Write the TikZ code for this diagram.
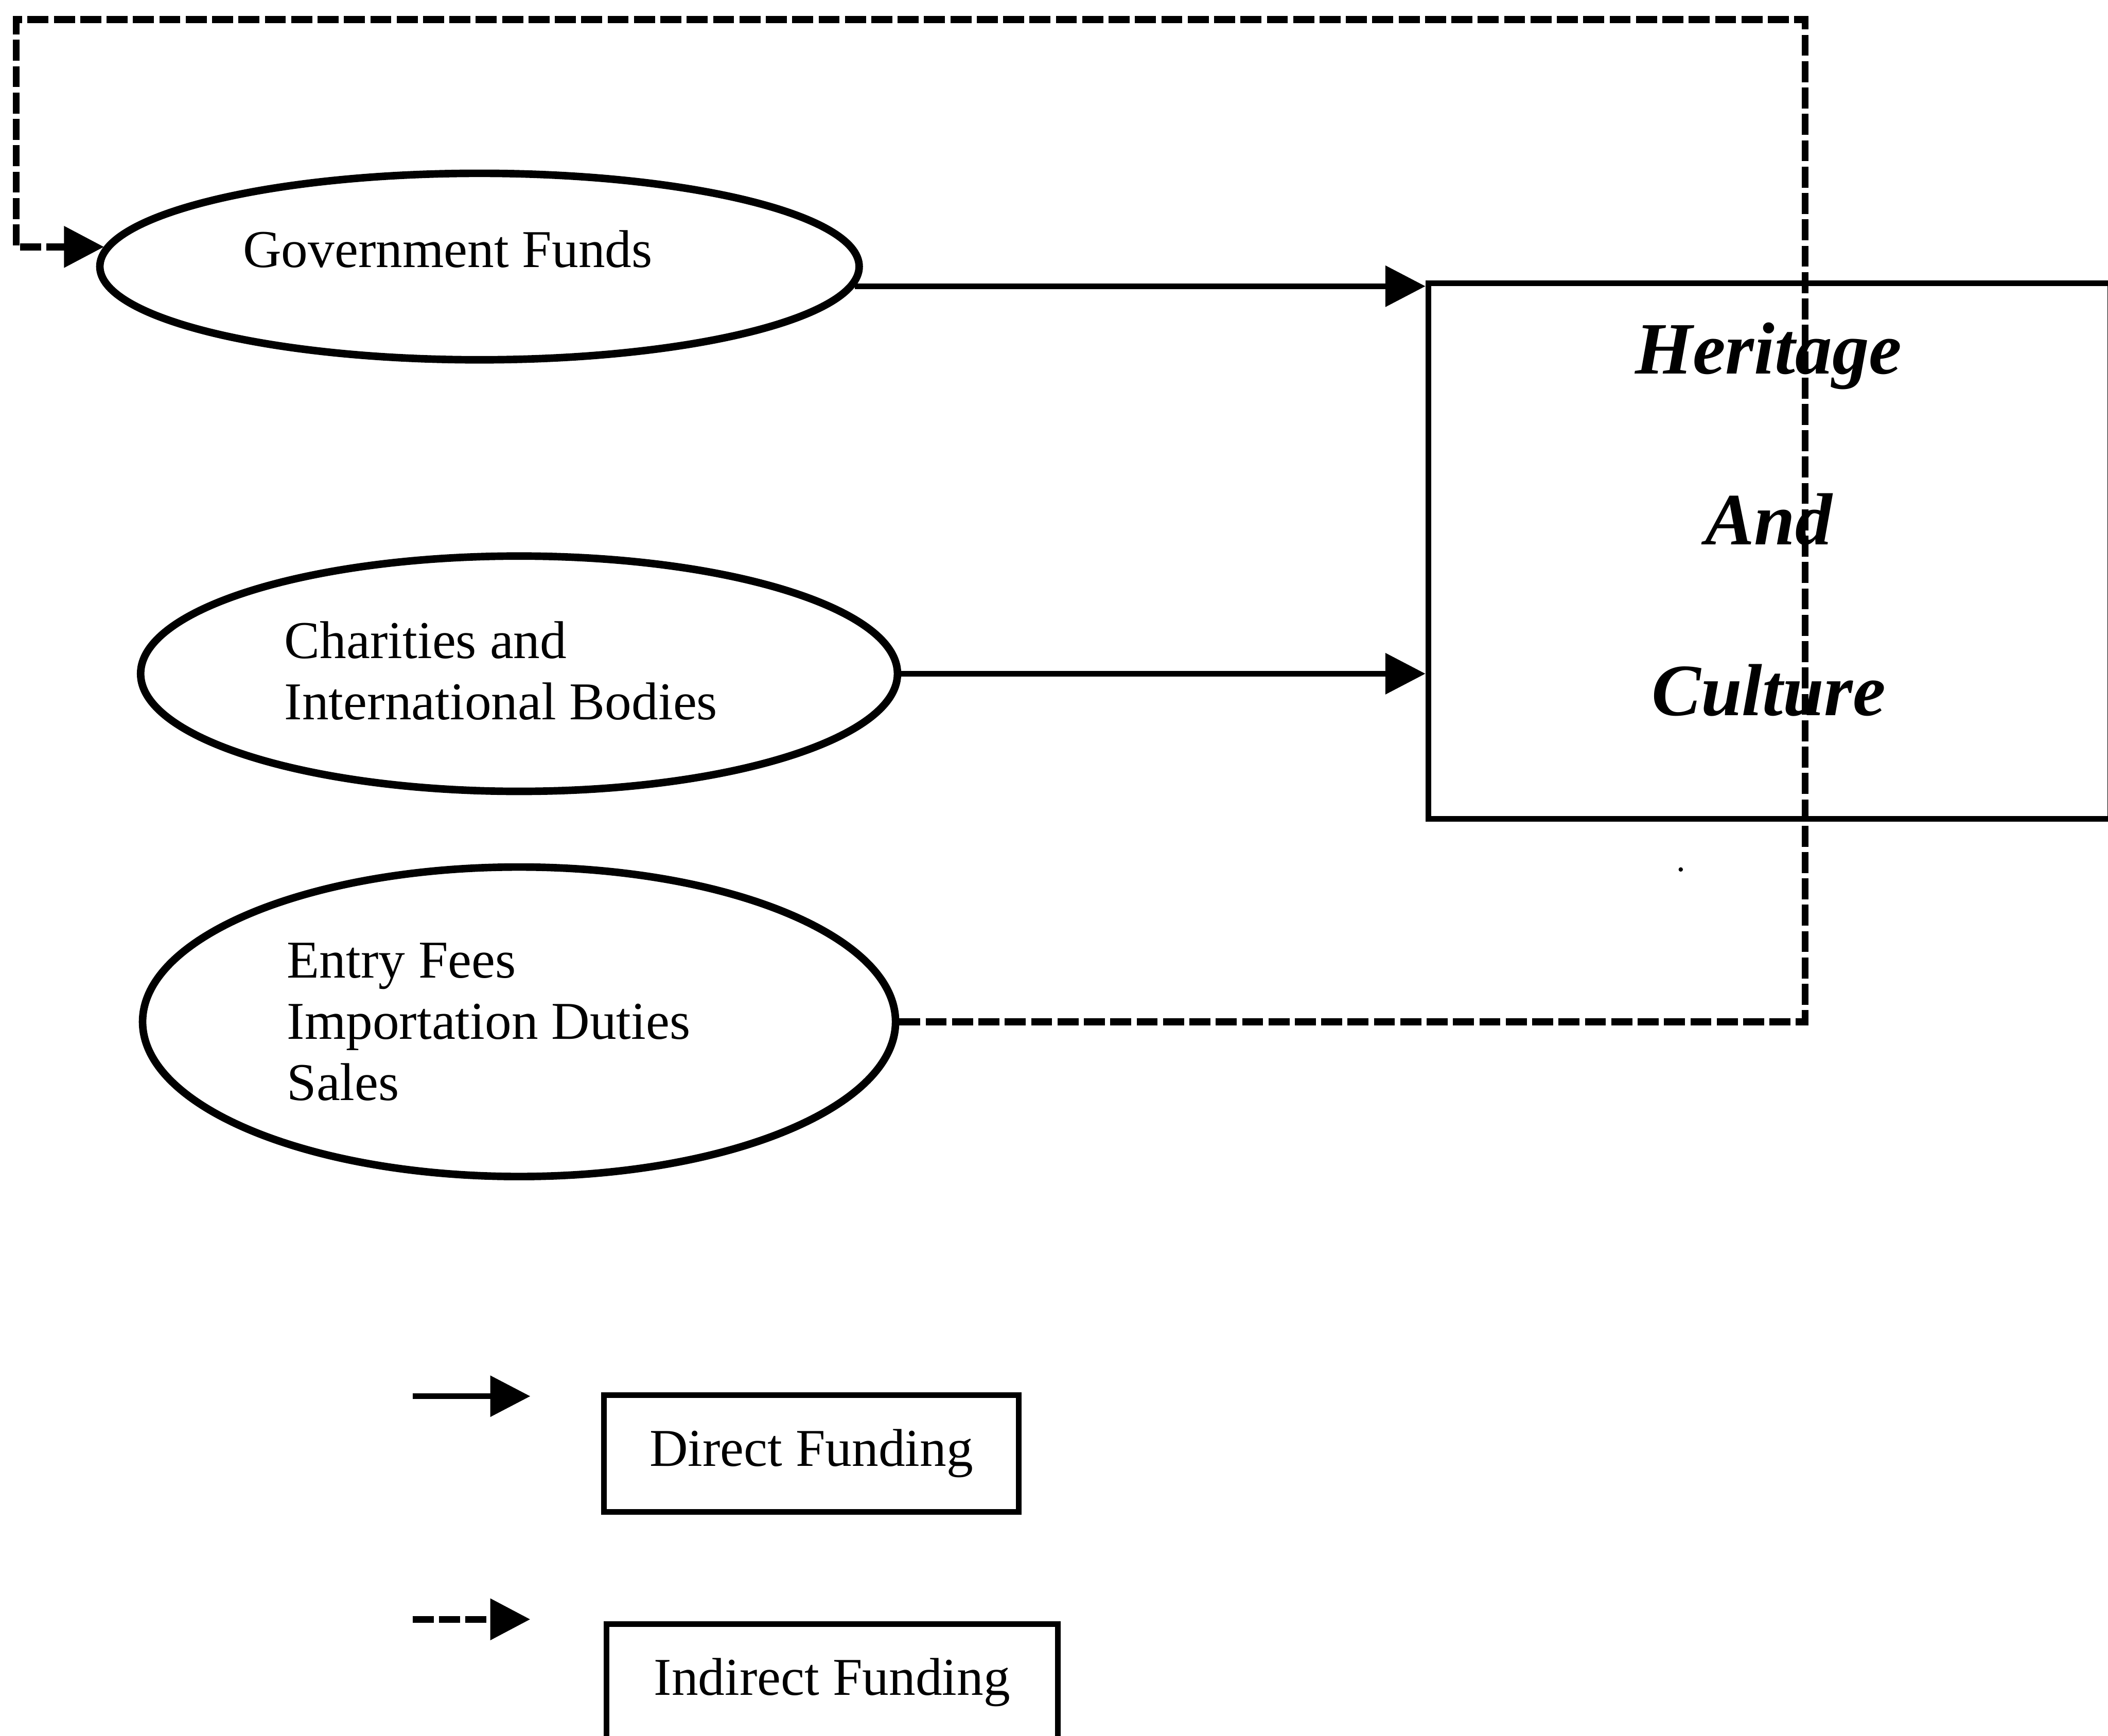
\documentclass[tikz,border=0pt]{standalone}
\usepackage{fontspec}
\setmainfont{Liberation Serif}
\usetikzlibrary{arrows.meta,shapes.geometric}
\begin{document}
\begin{tikzpicture}[
  source/.style={ellipse, draw, line width=4.4pt, inner sep=0pt},
  srctext/.style={font=\fontsize{31}{35.7}\selectfont, align=left, inner sep=0pt, anchor=base west},
  direct/.style={line width=3.3pt, -{Triangle[length=0.82cm,width=0.82cm]}},
  indirect/.style={line width=4pt, dash pattern=on 0.43cm off 0.11cm, -{Triangle[length=0.82cm,width=0.82cm]}},
  keybox/.style={draw, line width=3.3pt, minimum height=2.39cm, inner sep=0pt, font=\fontsize{31}{35.7}\selectfont},
  target/.style={draw, line width=3.3pt, minimum width=13.97cm, minimum height=10.97cm, inner sep=0pt},
  targettext/.style={font=\fontsize{43}{99.6}\selectfont\bfseries\itshape, align=center, inner sep=0pt, anchor=base}
]
\useasboundingbox (0,0) rectangle (43.17,-35.55);
\clip (0,0) rectangle (43.17,-35.55);

% funding sources (text nodes are placed by the baseline of their last line)
\node[source, minimum width=15.55cm, minimum height=3.82cm] (gov) at (9.82,-5.46) {};
\node[srctext] (govtext) at (4.97,-5.48) {Government Funds};
\node[source, minimum width=15.5cm, minimum height=4.82cm] (char) at (10.63,-13.80) {};
\node[srctext] (chartext) at (5.82,-14.74) {Charities and\\International Bodies};
\node[source, minimum width=15.42cm, minimum height=6.34cm] (entry) at (10.63,-20.93) {};
\node[srctext] (entrytext) at (5.87,-22.54) {Entry Fees\\Importation Duties\\Sales};

% recipient
\node[target] (hc) at (36.235,-11.285) {};
\node[targettext] (hctext) at (36.22,-14.66) {Heritage\\And\\Culture};

% direct funding
\draw[direct] (gov.357.2) -- (gov.357.2 -| hc.west);
\draw[direct] (char.east) -- (char.east -| hc.west);

% indirect funding loop
\coordinate (ne) at (36.97,-0.40);
\coordinate (nw) at (0.33,-0.40);
\draw[indirect] (entry.east) -| (ne) -- (nw) |- (gov.177);

\fill (34.42,-17.81) circle (0.045);

% key
\coordinate (k1s) at (8.45,-28.60);
\coordinate (k1e) at (10.86,-28.60);
\draw[direct] (k1s) -- (k1e);
\node[keybox, minimum width=8.49cm] (kdirect) at (16.615,-29.775) {Direct Funding};
\coordinate (k2s) at (8.45,-33.17);
\coordinate (k2e) at (10.86,-33.17);
\draw[indirect] (k2s) -- (k2e);
\node[keybox, minimum width=9.24cm] (kindirect) at (17.04,-34.465) {Indirect Funding};
\end{tikzpicture}
\end{document}
